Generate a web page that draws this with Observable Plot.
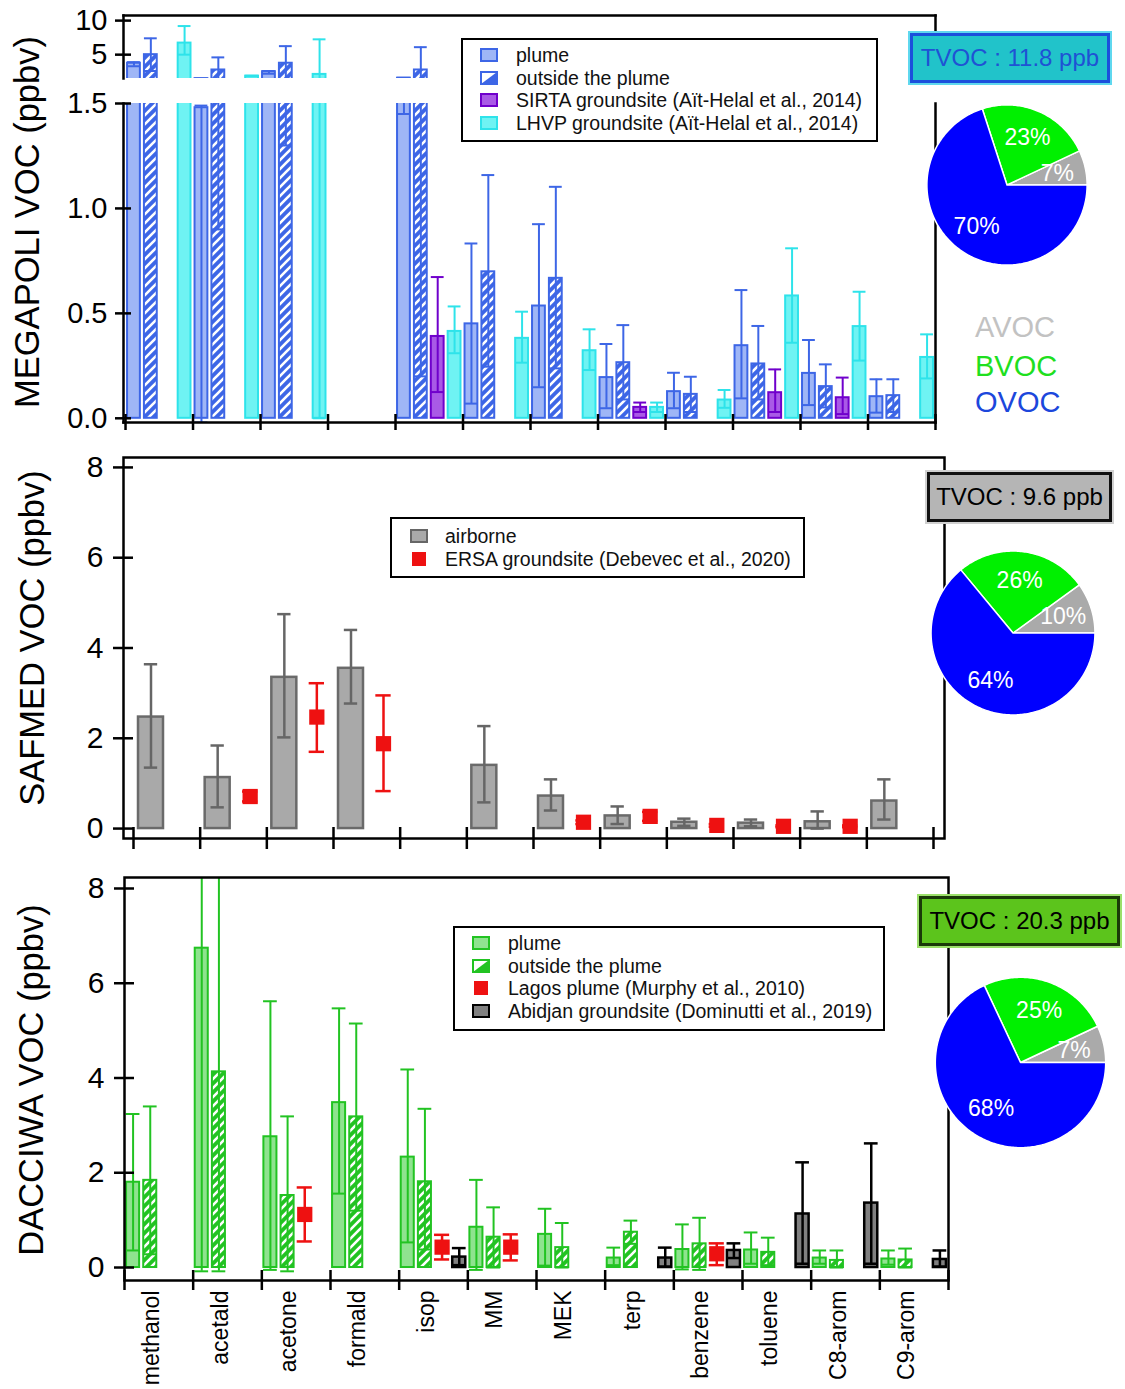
<!DOCTYPE html>
<html>
<head>
<meta charset="utf-8">
<script src="https://cdn.jsdelivr.net/npm/d3@7"></script>
<script src="https://cdn.jsdelivr.net/npm/@observablehq/plot@0.6"></script>
<style>
  html, body { margin: 0; padding: 0; background: #fff; }
  body { font-family: "Liberation Sans", Arial, Helvetica, sans-serif; }
  #root { position: relative; width: 1125px; height: 1389px; overflow: hidden; background: #fff; }
  .ytitle { position: absolute; white-space: nowrap; font-size: 34.5px; color: #000; transform: translate(-50%, -50%) rotate(-90deg); }
  .tvoc { position: absolute; box-sizing: border-box; font-size: 24px; text-align: center; white-space: nowrap; }
  .legend { position: absolute; box-sizing: border-box; border: 2.5px solid #000; background: #fff; }
  .legend .row { position: absolute; display: flex; align-items: center; white-space: nowrap; font-size: 19.5px; color: #111; transform: translateY(-50%); }
  .legend .sym { position: absolute; transform: translateY(-50%); line-height: 0; }
  .grp { position: absolute; font-size: 29px; white-space: nowrap; transform: translateY(-50%); }
</style>
</head>
<body>
<svg width="0" height="0" style="position:absolute">
  <defs>
    <pattern id="hatchBlue" patternUnits="userSpaceOnUse" width="9" height="9">
      <rect width="9" height="9" fill="#3d66e6"></rect>
      <path d="M-2,2 l4,-4 M0,9 l9,-9 M7,11 l4,-4" stroke="#ffffff" stroke-width="2.6"></path>
    </pattern>
    <pattern id="hatchGreen" patternUnits="userSpaceOnUse" width="9" height="9">
      <rect width="9" height="9" fill="#22c322"></rect>
      <path d="M-2,2 l4,-4 M0,9 l9,-9 M7,11 l4,-4" stroke="#ffffff" stroke-width="2.6"></path>
    </pattern>
  </defs>
</svg>
<div id="root"></div>
<script>
// ---------------- DATA ----------------
const categories = ["methanol", "acetald", "acetone", "formald", "isop", "MM", "MEK", "terp", "benzene", "toluene", "C8-arom", "C9-arom"];

// MEGAPOLI (top panel)
const megPlume   = [3.75, 1.48, 2.5, null, 1.55, 0.45, 0.535, 0.194, 0.127, 0.346, 0.214, 0.103];
const megPlumeLo = [3.3, -0.02, 2.2, null, 1.45, 0.07, 0.148, 0.048, 0.048, 0.095, 0.063, 0.027];
const megPlumeHi = [3.9, 1.49, 2.6, null, 1.6, 0.833, 0.925, 0.354, 0.217, 0.611, 0.373, 0.186];
const megOut     = [5.0, 2.75, 3.74, null, 2.75, 0.698, 0.667, 0.265, 0.114, 0.259, 0.151, 0.108];
const megOutLo   = [2.6, 0.9, 1.3, null, 0.2, 0.246, 0.238, 0.09, 0.03, 0.09, 0.052, 0.03];
const megOutHi   = [7.4, 4.6, 6.25, null, 6.1, 1.159, 1.103, 0.444, 0.198, 0.44, 0.257, 0.186];
const sirta      = [null, null, null, null, 0.39, null, null, 0.052, null, 0.122, 0.098, null];
const sirtaLo    = [null, null, null, null, 0.125, null, null, 0.03, null, 0.03, 0.02, null];
const sirtaHi    = [null, null, null, null, 0.673, null, null, 0.075, null, 0.233, 0.194, null];
const lhvp       = [6.7, 1.85, 2.1, null, 0.414, 0.381, 0.322, 0.052, 0.087, 0.583, 0.437, 0.29];
const lhvpLo     = [5.0, 1.8, 0.0, null, 0.31, 0.265, 0.23, 0.03, 0.05, 0.36, 0.275, 0.19];
const lhvpHi     = [9.2, 1.9, 7.25, null, 0.533, 0.508, 0.424, 0.075, 0.135, 0.81, 0.603, 0.4];

// SAFMED (middle panel)
const safAir     = [2.47, 1.13, 3.35, 3.55, null, 1.4, 0.72, 0.28, 0.14, 0.12, 0.15, 0.61];
const safAirLo   = [1.35, 0.47, 2.02, 2.77, null, 0.58, 0.4, 0.1, 0.06, 0.05, 0.0, 0.2];
const safAirHi   = [3.64, 1.84, 4.75, 4.4, null, 2.27, 1.09, 0.49, 0.22, 0.2, 0.38, 1.09];
const ersa       = [null, 0.71, 2.47, 1.88, null, null, 0.14, 0.27, 0.07, 0.05, 0.05, null];
const ersaLo     = [null, 0.6, 1.70, 0.83, null, null, 0.1, 0.17, 0.04, 0.03, 0.03, null];
const ersaHi     = [null, 0.82, 3.22, 2.95, null, null, 0.18, 0.37, 0.1, 0.07, 0.07, null];

// DACCIWA (bottom panel)
const dacPlume   = [1.8, 6.74, 2.76, 3.48, 2.33, 0.85, 0.7, 0.2, 0.38, 0.37, 0.2, 0.18];
const dacPlumeLo = [0.36, -0.08, -0.05, 1.56, 0.53, -0.05, 0.04, 0.05, -0.04, 0.08, 0.08, 0.06];
const dacPlumeHi = [3.24, 13.5, 5.62, 5.47, 4.18, 1.85, 1.24, 0.42, 0.91, 0.74, 0.36, 0.36];
const dacOut     = [1.84, 4.13, 1.52, 3.18, 1.81, 0.64, 0.42, 0.745, 0.5, 0.32, 0.15, 0.16];
const dacOutLo   = [0.28, -0.08, -0.08, 1.2, 0.38, 0.0, 0.0, 0.5, -0.05, 0.05, 0.0, 0.0];
const dacOutHi   = [3.4, 8.5, 3.19, 5.15, 3.35, 1.27, 0.94, 0.99, 1.05, 0.63, 0.36, 0.4];
const lagos      = [null, null, 1.12, null, 0.43, 0.43, null, null, 0.29, null, null, null];
const lagosLo    = [null, null, 0.55, null, 0.17, 0.15, null, null, 0.05, null, null, null];
const lagosHi    = [null, null, 1.69, null, 0.69, 0.7, null, null, 0.51, null, null, null];
const abidjan    = [null, null, null, null, 0.22, null, null, 0.2, 0.36, 1.13, 1.36, 0.17];
const abidjanLo  = [null, null, null, null, 0.05, null, null, 0.02, 0.2, 0.08, 0.08, 0.02];
const abidjanHi  = [null, null, null, null, 0.41, null, null, 0.42, 0.51, 2.22, 2.62, 0.36];

// Pies
const pieGroups = ["AVOC", "BVOC", "OVOC"];
const pieMega = [7, 23, 70];
const pieSaf  = [10, 26, 64];
const pieDac  = [7, 25, 68];
const tvocValues = ["11.8", "9.6", "20.3"];

// Axis ticks
const yTicksUpper = [5, 10];
const yTicksLower = [0, 0.5, 1.0, 1.5];
const yTicksLow = [0, 2, 4, 6, 8];

// ---------------- HELPERS ----------------
const root = document.getElementById("root");
const W = 1125;
const FONT = '"Liberation Sans", Arial, Helvetica, sans-serif';
const baseStyle = {fontFamily: FONT, fontSize: "20px", background: "transparent", color: "black", overflow: "visible"};

function rows(mean, lo, hi, slot) {
  return categories.map((c, i) => ({c, i, slot, v: mean[i], lo: lo[i], hi: hi[i]})).filter(d => d.v != null);
}
function place(el, left, top) {
  el.style.position = "absolute";
  el.style.left = left + "px";
  el.style.top = top + "px";
  root.appendChild(el);
}
const boundaries = categories.map((_, i) => i).concat([categories.length]);

// 4-slot bars with whiskers
function slotMarks(data, {fill, stroke, whisker, sw = 2, pad = 0.03, cap = 0.095}) {
  const c = d => d.i + (d.slot + 0.5) / 4;
  return [
    Plot.rect(data, {x1: d => d.i + d.slot / 4 + pad, x2: d => d.i + (d.slot + 1) / 4 - pad, y1: () => 0, y2: "v", fill, stroke, strokeWidth: sw, clip: true}),
    Plot.ruleX(data, {x: c, y1: "lo", y2: "hi", stroke: whisker, strokeWidth: sw, clip: true}),
    Plot.ruleY(data, {y: "hi", x1: d => c(d) - cap, x2: d => c(d) + cap, stroke: whisker, strokeWidth: sw, clip: true}),
    Plot.ruleY(data, {y: "lo", x1: d => c(d) - cap, x2: d => c(d) + cap, stroke: whisker, strokeWidth: sw, clip: true})
  ];
}
function squareMarks(data, xc, color, cap) {
  return [
    Plot.ruleX(data, {x: xc, y1: "lo", y2: "hi", stroke: color, strokeWidth: 2.5}),
    Plot.ruleY(data, {y: "hi", x1: d => xc(d) - cap, x2: d => xc(d) + cap, stroke: color, strokeWidth: 2.5}),
    Plot.ruleY(data, {y: "lo", x1: d => xc(d) - cap, x2: d => xc(d) + cap, stroke: color, strokeWidth: 2.5}),
    Plot.dot(data, {x: xc, y: "v", symbol: "square", r: 8.6, fill: color, stroke: "none"})
  ];
}

// ---------------- TOP PANEL (MEGAPOLI, broken axis: two segments) ----------------
const megMarks = () => [
  ...slotMarks(rows(megPlume, megPlumeLo, megPlumeHi, 0), {fill: "#9fb6f6", stroke: "#3d66e6", whisker: "#3d66e6"}),
  ...slotMarks(rows(megOut, megOutLo, megOutHi, 1), {fill: "url(#hatchBlue)", stroke: "#3d66e6", whisker: "#3d66e6"}),
  ...slotMarks(rows(sirta, sirtaLo, sirtaHi, 2), {fill: "#a95ae6", stroke: "#7000cc", whisker: "#7000cc"}),
  ...slotMarks(rows(lhvp, lhvpLo, lhvpHi, 3), {fill: "#6ff3f3", stroke: "#2ee3ea", whisker: "#2ee3ea"})
];
// upper segment: 1.5 .. 10
{
  const H = 80;
  const p = Plot.plot({
    width: W, height: H,
    marginLeft: 123, marginRight: W - 935, marginTop: 15, marginBottom: H - 78,
    x: {domain: [-0.03, 12], axis: null},
    y: {domain: [1.5, 10.75], axis: null},
    style: baseStyle,
    marks: [
      ...megMarks(),
      Plot.frame({anchor: "top", stroke: "black", strokeWidth: 2.5}),
      Plot.frame({anchor: "left", stroke: "black", strokeWidth: 2.5}),
      Plot.frame({anchor: "right", stroke: "black", strokeWidth: 2.5}),
      Plot.axisY({ticks: yTicksUpper, tickSize: 16, dx: 8, tickFormat: () => "", label: null, strokeWidth: 2.5}),
      Plot.text(yTicksUpper, {y: d => d, text: d => String(d), frameAnchor: "left", textAnchor: "end", dx: -16, fontSize: 29})
    ]
  });
  place(p, 0, 0);
}
// lower segment: 0 .. 1.5
{
  const H = 360, top = 80;
  const p = Plot.plot({
    width: W, height: H,
    marginLeft: 123, marginRight: W - 935, marginTop: 103 - top, marginBottom: top + H - 422,
    x: {domain: [-0.03, 12], axis: null},
    y: {domain: [-0.02, 1.5], axis: null},
    style: baseStyle,
    marks: [
      ...megMarks(),
      Plot.frame({anchor: "bottom", stroke: "black", strokeWidth: 2.5}),
      Plot.frame({anchor: "left", stroke: "black", strokeWidth: 2.5}),
      Plot.frame({anchor: "right", stroke: "black", strokeWidth: 2.5}),
      Plot.axisY({ticks: yTicksLower, tickSize: 16, dx: 8, tickFormat: () => "", label: null, strokeWidth: 2.5}),
      Plot.text(yTicksLower, {y: d => d, text: d => d.toFixed(1), frameAnchor: "left", textAnchor: "end", dx: -16, fontSize: 29}),
      Plot.axisX({ticks: boundaries, tickSize: 16, dy: -8, tickFormat: () => "", label: null, strokeWidth: 2.5})
    ]
  });
  place(p, 0, top);
}

// ---------------- MIDDLE PANEL (SAFMED) ----------------
{
  const H = 420;
  const air = rows(safAir, safAirLo, safAirHi, 0);
  const ers = rows(ersa, ersaLo, ersaHi, 1);
  const ac = d => d.i + 0.2625;
  const marks = [
    Plot.rect(air, {x1: d => d.i + 0.075, x2: d => d.i + 0.45, y1: () => 0, y2: "v", fill: "#a9a9a9", stroke: "#6a6a6a", strokeWidth: 2.5}),
    Plot.ruleX(air, {x: ac, y1: "lo", y2: "hi", stroke: "#666666", strokeWidth: 2.5}),
    Plot.ruleY(air, {y: "hi", x1: d => ac(d) - 0.1, x2: d => ac(d) + 0.1, stroke: "#666666", strokeWidth: 2.5}),
    Plot.ruleY(air, {y: "lo", x1: d => ac(d) - 0.1, x2: d => ac(d) + 0.1, stroke: "#666666", strokeWidth: 2.5}),
    ...squareMarks(ers, d => d.i + 0.75, "#ee1111", 0.115),
    Plot.frame({stroke: "black", strokeWidth: 2.5}),
    Plot.axisY({ticks: yTicksLow, tickSize: 20, dx: 10, tickFormat: () => "", label: null, strokeWidth: 2.5}),
    Plot.text(yTicksLow, {y: d => d, text: d => String(d), frameAnchor: "left", textAnchor: "end", dx: -20, fontSize: 30}),
    Plot.axisX({ticks: boundaries, tickSize: 22, dy: -11, tickFormat: () => "", label: null, strokeWidth: 2.5})
  ];
  const p = Plot.plot({
    width: W, height: H,
    marginLeft: 123, marginRight: W - 944, marginTop: 17, marginBottom: 22,
    x: {domain: [-0.15, 12.165], axis: null},
    y: {domain: [-0.22, 8.22], axis: null},
    style: baseStyle,
    marks
  });
  place(p, 0, 440);
}

// ---------------- BOTTOM PANEL (DACCIWA) ----------------
{
  const H = 529;
  const marks = [
    ...slotMarks(rows(dacPlume, dacPlumeLo, dacPlumeHi, 0), {fill: "#8fe38f", stroke: "#22c322", whisker: "#22c322", cap: 0.1}),
    ...slotMarks(rows(dacOut, dacOutLo, dacOutHi, 1), {fill: "url(#hatchGreen)", stroke: "#22c322", whisker: "#22c322", cap: 0.1}),
    ...squareMarks(rows(lagos, lagosLo, lagosHi, 2), d => d.i + 0.625, "#ee1111", 0.11),
    ...slotMarks(rows(abidjan, abidjanLo, abidjanHi, 3), {fill: "#808080", stroke: "#000000", whisker: "#000000", sw: 2.5, cap: 0.1}),
    Plot.frame({stroke: "black", strokeWidth: 2.5}),
    Plot.axisY({ticks: yTicksLow, tickSize: 20, dx: 10, tickFormat: () => "", label: null, strokeWidth: 2.5}),
    Plot.text(yTicksLow, {y: d => d, text: d => String(d), frameAnchor: "left", textAnchor: "end", dx: -20, fontSize: 30}),
    Plot.axisX({ticks: boundaries, tickSize: 20, dy: -10, tickFormat: () => "", label: null, strokeWidth: 2.5}),
    Plot.text(categories, {x: (d, i) => i + 0.5, text: d => d, frameAnchor: "bottom", rotate: -90, textAnchor: "end", dy: 10, fontSize: 23})
  ];
  const p = Plot.plot({
    width: W, height: H,
    marginLeft: 124, marginRight: W - 948, marginTop: 17, marginBottom: H - 420,
    x: {domain: [0, 12], axis: null},
    y: {domain: [-0.274, 8.232], axis: null},
    style: baseStyle,
    marks
  });
  place(p, 0, 860);
}

// ---------------- PIES ----------------
const pieColors = ["#aaaaaa", "#00f000", "#0000ff"];
function piePlot(pcts, r) {
  const R = 1.08;
  const S = Math.round(2 * R * r);
  let a0 = 0;
  const wedges = [];
  const labels = [];
  pcts.forEach((p, k) => {
    const a1 = a0 + (p / 100) * 2 * Math.PI;
    const n = Math.max(2, Math.ceil((a1 - a0) / (Math.PI / 180)));
    const pts = [{x: 0, y: 0}];
    for (let j = 0; j <= n; j++) {
      const a = a0 + (a1 - a0) * j / n;
      pts.push({x: Math.cos(a), y: Math.sin(a)});
    }
    pts.push({x: 0, y: 0});
    wedges.push({k, pts});
    const am = (a0 + a1) / 2;
    labels.push({x: 0.645 * Math.cos(am), y: 0.645 * Math.sin(am), t: p + "%"});
    a0 = a1;
  });
  const p = Plot.plot({
    width: S, height: S, margin: 0,
    x: {domain: [-R, R], axis: null},
    y: {domain: [-R, R], axis: null},
    style: baseStyle,
    marks: [
      ...wedges.map(w => Plot.line(w.pts, {x: "x", y: "y", fill: pieColors[w.k], stroke: "white", strokeWidth: 1.5, curve: "linear"})),
      Plot.text(labels, {x: "x", y: "y", text: "t", fill: "white", fontSize: 23})
    ]
  });
  return {p, S};
}
[[pieMega, 80, 1006, 184], [pieSaf, 82, 1012, 632], [pieDac, 85, 1020, 1062]].forEach(([vals, r, cx, cy]) => {
  const {p, S} = piePlot(vals, r);
  place(p, cx - S / 2, cy - S / 2);
});

// ---------------- TVOC BOXES ----------------
const tvocBoxes = [
  {left: 910, top: 33, w: 200, h: 50, bg: "#21c3ca", border: "#1b4fdc", outline: "#5fd8ef", color: "#1f52d4"},
  {left: 927, top: 472, w: 185, h: 50, bg: "#b5b5b5", border: "#111111", outline: "#d0d0d0", color: "#000000"},
  {left: 919, top: 896, w: 201, h: 50, bg: "#5cc41c", border: "#1a3a08", outline: "#9be06a", color: "#000000"}
];
tvocBoxes.forEach((b, i) => {
  const d = document.createElement("div");
  d.className = "tvoc";
  d.style.width = b.w + "px";
  d.style.height = b.h + "px";
  d.style.lineHeight = (b.h - 6) + "px";
  d.style.background = b.bg;
  d.style.border = "3px solid " + b.border;
  d.style.outline = "2px solid " + b.outline;
  d.style.color = b.color;
  d.textContent = "TVOC : " + tvocValues[i] + " ppb";
  place(d, b.left, b.top);
});

// ---------------- GROUP LABELS ----------------
const grpColors = ["#c2c2c2", "#1fdf1f", "#1c47dc"];
const grpY = [327, 366, 402];
pieGroups.forEach((g, i) => {
  const d = document.createElement("div");
  d.className = "grp";
  d.style.color = grpColors[i];
  d.textContent = g;
  place(d, 975, grpY[i]);
});

// ---------------- Y TITLES ----------------
[["MEGAPOLI VOC (ppbv)", 27, 222], ["SAFMED VOC (ppbv)", 32, 638], ["DACCIWA VOC (ppbv)", 31, 1080]].forEach(([t, x, y]) => {
  const d = document.createElement("div");
  d.className = "ytitle";
  d.textContent = t;
  place(d, x, y);
});

// ---------------- LEGENDS ----------------
function sym(kind, fill, stroke) {
  if (kind === "box") return `<svg width="18" height="14"><rect x="1" y="1" width="16" height="12" fill="${fill}" stroke="${stroke}" stroke-width="2"/></svg>`;
  if (kind === "half") return `<svg width="18" height="14"><rect x="1" y="1" width="16" height="12" fill="#fff" stroke="${stroke}" stroke-width="2"/><path d="M17,1 L17,13 L1,13 Z" fill="${fill}"/></svg>`;
  return `<svg width="18" height="16"><rect x="2" y="1" width="14" height="14" fill="${fill}"/></svg>`;
}
function legend(box, items) {
  const d = document.createElement("div");
  d.className = "legend";
  d.style.width = box.w + "px";
  d.style.height = box.h + "px";
  items.forEach((it, k) => {
    const cy = box.first + k * box.step;
    const s = document.createElement("div");
    s.className = "sym";
    s.style.left = box.symX + "px";
    s.style.top = cy + "px";
    s.innerHTML = sym(it.kind, it.fill, it.stroke);
    d.appendChild(s);
    const t = document.createElement("div");
    t.className = "row";
    t.style.left = box.textX + "px";
    t.style.top = cy + "px";
    t.textContent = it.label;
    d.appendChild(t);
  });
  place(d, box.left, box.top);
}
legend({left: 461, top: 38, w: 417, h: 104, first: 15, step: 22.7, symX: 17, textX: 53}, [
  {kind: "box", fill: "#9fb6f6", stroke: "#3d66e6", label: "plume"},
  {kind: "half", fill: "#3d66e6", stroke: "#3d66e6", label: "outside the plume"},
  {kind: "box", fill: "#a95ae6", stroke: "#7000cc", label: "SIRTA groundsite (Aït-Helal et al., 2014)"},
  {kind: "box", fill: "#6ff3f3", stroke: "#2ee3ea", label: "LHVP groundsite (Aït-Helal et al., 2014)"}
]);
legend({left: 390, top: 517, w: 415, h: 61, first: 17, step: 22.5, symX: 18, textX: 53}, [
  {kind: "box", fill: "#a9a9a9", stroke: "#666666", label: "airborne"},
  {kind: "sq", fill: "#ee1111", label: "ERSA groundsite (Debevec et al., 2020)"}
]);
legend({left: 453, top: 926, w: 432, h: 105, first: 15, step: 22.7, symX: 17, textX: 53}, [
  {kind: "box", fill: "#8fe38f", stroke: "#22c322", label: "plume"},
  {kind: "half", fill: "#22c322", stroke: "#22c322", label: "outside the plume"},
  {kind: "sq", fill: "#ee1111", label: "Lagos plume (Murphy et al., 2010)"},
  {kind: "box", fill: "#808080", stroke: "#000000", label: "Abidjan groundsite (Dominutti et al., 2019)"}
]);
</script>
</body>
</html>
